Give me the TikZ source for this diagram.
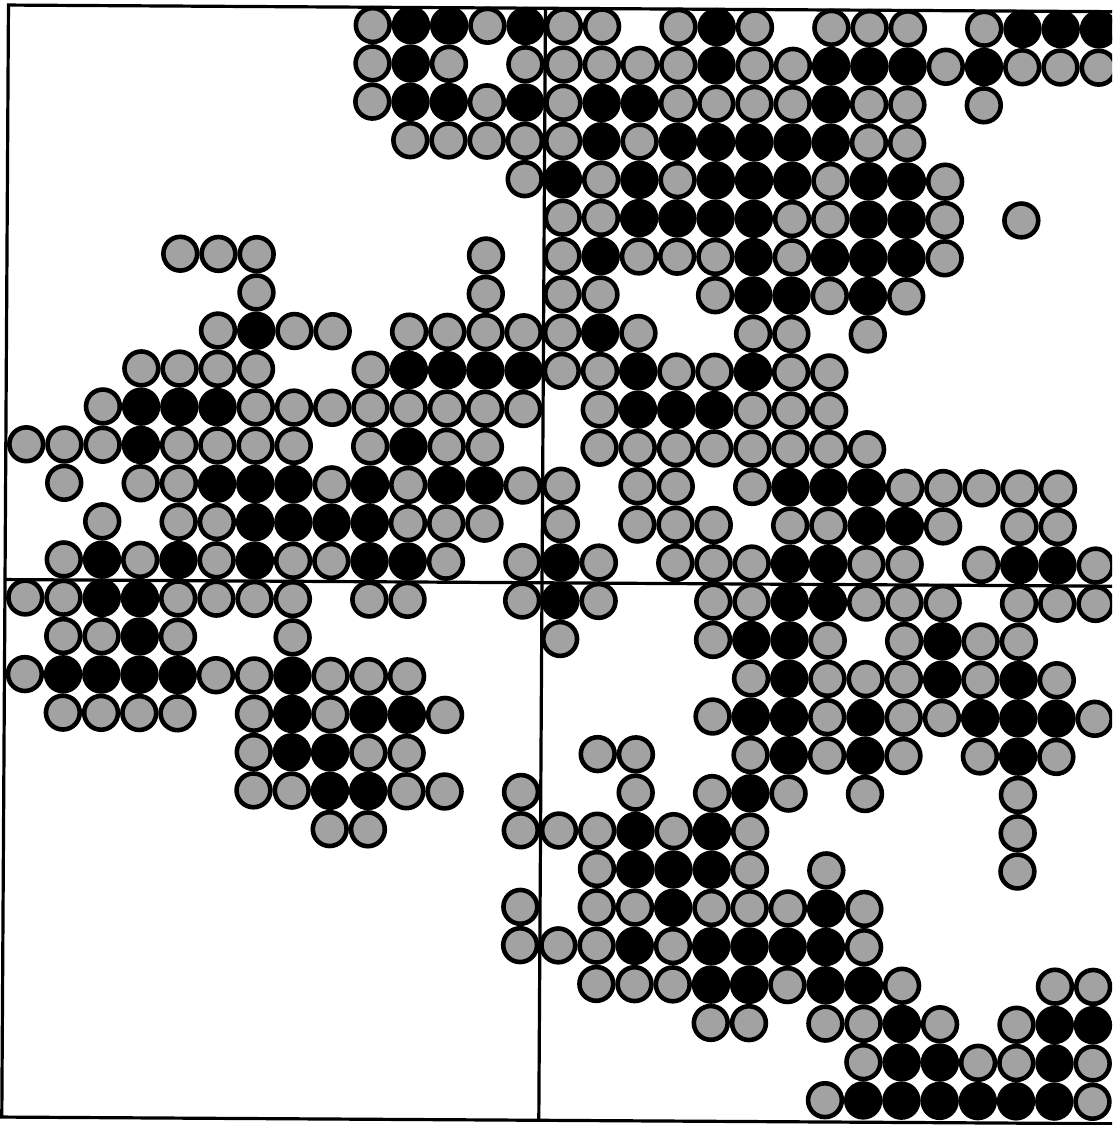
\documentclass[tikz,border=0pt]{standalone}
\definecolor{cellgray}{RGB}{162,162,162}
\begin{document}
\begin{tikzpicture}[x=1pt,y=-1pt,
  cellg/.style={draw=black,line width=4.6pt,fill=cellgray},
  cellb/.style={draw=black,line width=4.6pt,fill=black},
  frameline/.style={draw=black,line width=3.2pt}]
\clip (0,0) rectangle (1112,1125);
\fill[white] (0,0) rectangle (1112,1125);
\begin{scope}[cm={1,-0.006,0.006,1,(0,0)}]
  \draw[frameline] (8.5,5) rectangle (1121,1117);
  \draw[frameline] (545.5,5) -- (545.5,1117);
  \draw[frameline] (8.5,579.5) -- (1121,579.5);
  \foreach \r/\gl/\bl in {
    0/{9,12,14,15,17,19,21,22,23,25}/{10,11,13,18,26,27,28},
    1/{9,11,13,14,15,16,17,19,20,24,26,27,28}/{10,18,21,22,23,25},
    2/{9,12,14,17,18,19,20,22,23,25}/{10,11,13,15,16,21},
    3/{10,11,12,13,14,16,22,23}/{15,17,18,19,20,21},
    4/{13,15,17,21,24}/{14,16,18,19,20,22,23},
    5/{14,15,20,21,24,26}/{16,17,18,19,22,23},
    6/{4,5,6,12,14,16,17,18,20,24}/{15,19,21,22,23},
    7/{6,12,14,15,18,21,23}/{19,20,22},
    8/{5,7,8,10,11,12,13,14,16,19,20,22}/{6,15},
    9/{3,4,5,6,9,14,15,17,18,20,21}/{10,11,12,13,16,19},
    10/{2,6,7,8,9,10,11,12,13,15,19,20,21}/{3,4,5,16,17,18},
    11/{0,1,2,4,5,6,7,9,11,12,15,16,17,18,19,20,21,22}/{3,10},
    12/{1,3,4,8,10,13,14,16,17,19,23,24,25,26,27}/{5,6,7,9,11,12,20,21,22},
    13/{2,4,5,10,11,12,14,16,17,18,20,21,24,26,27}/{6,7,8,9,22,23},
    14/{1,3,5,7,8,11,13,15,17,18,19,22,23,25,28}/{2,4,6,9,10,14,20,21,26,27},
    15/{0,1,4,5,6,7,9,10,13,15,18,19,22,23,24,26,27,28}/{2,3,14,20,21},
    16/{1,2,4,7,14,18,21,23,25,26}/{3,19,20,24},
    17/{0,5,6,8,9,10,19,21,22,23,25,27}/{1,2,3,4,7,20,24,26},
    18/{1,2,3,4,6,8,11,18,21,23,24,28}/{7,9,10,19,20,22,25,26,27},
    19/{6,9,10,15,16,19,21,23,25,27}/{7,8,20,22,26},
    20/{6,7,10,11,13,16,18,20,22,26}/{8,9,19},
    21/{8,9,13,14,15,17,19,26}/{16,18},
    22/{15,19,21,26}/{16,17,18},
    23/{13,15,16,18,19,20,22}/{17,21},
    24/{13,14,15,17,22}/{16,18,19,20,21},
    25/{15,16,17,20,23,27,28}/{18,19,21,22},
    26/{18,19,21,22,24,26}/{23,27,28},
    27/{22,25,26,28}/{23,24,27},
    28/{21,28}/{22,23,24,25,26,27}} {
    \foreach \c in \gl {
      \path[cellg] ({28.9+38.22*\c},{22.8+38.3*\r}) circle (16.9);
    }
    \foreach \c in \bl {
      \path[cellb] ({28.9+38.22*\c},{22.8+38.3*\r}) circle (16.9);
    }
  }
\end{scope}
\end{tikzpicture}
\end{document}
